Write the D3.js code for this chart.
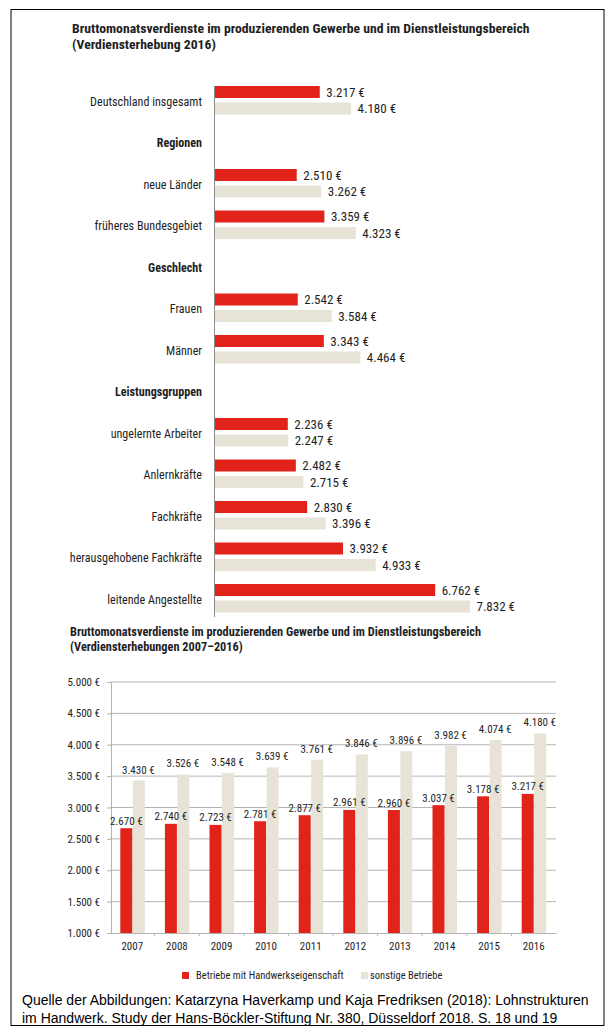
<!DOCTYPE html>
<html>
<head>
<meta charset="utf-8">
<script src="https://cdn.jsdelivr.net/npm/d3@7"></script>
<style>
  html, body { margin: 0; padding: 0; background: #fff; }
  svg { display: block; }
  .cond { font-family: "Liberation Sans Narrow", "Arial Narrow", "Roboto Condensed", sans-serif; }
  .foot { font-family: "Liberation Sans", Arial, sans-serif; }
</style>
</head>
<body>
<svg id="chart" width="612" height="1033"></svg>
<script>
// ---------- Data: Chart 1 (Verdiensterhebung 2016) ----------
const title1 = ["Bruttomonatsverdienste im produzierenden Gewerbe und im Dienstleistungsbereich",
                "(Verdiensterhebung 2016)"];
const rowLabels = ["Deutschland insgesamt", "Regionen", "neue Länder", "früheres Bundesgebiet",
                   "Geschlecht", "Frauen", "Männer", "Leistungsgruppen", "ungelernte Arbeiter",
                   "Anlernkräfte", "Fachkräfte", "herausgehobene Fachkräfte", "leitende Angestellte"];
const rowIsHeader = [false, true, false, false, true, false, false, true, false, false, false, false, false];
const handwerk2016 = [3217, null, 2510, 3359, null, 2542, 3343, null, 2236, 2482, 2830, 3932, 6762];
const sonstige2016 = [4180, null, 3262, 4323, null, 3584, 4464, null, 2247, 2715, 3396, 4933, 7832];

// ---------- Data: Chart 2 (2007–2016) ----------
const title2 = ["Bruttomonatsverdienste im produzierenden Gewerbe und im Dienstleistungsbereich",
                "(Verdiensterhebungen 2007–2016)"];
const years = ["2007", "2008", "2009", "2010", "2011", "2012", "2013", "2014", "2015", "2016"];
const handwerkYears = [2670, 2740, 2723, 2781, 2877, 2961, 2960, 3037, 3178, 3217];
const sonstigeYears = [3430, 3526, 3548, 3639, 3761, 3846, 3896, 3982, 4074, 4180];
const yTicks = [1000, 1500, 2000, 2500, 3000, 3500, 4000, 4500, 5000];
const seriesNames = ["Betriebe mit Handwerkseigenschaft", "sonstige Betriebe"];

const footer = ["Quelle der Abbildungen: Katarzyna Haverkamp und Kaja Fredriksen (2018): Lohnstrukturen",
                "im Handwerk. Study der Hans-Böckler-Stiftung Nr. 380, Düsseldorf 2018. S. 18 und 19"];

// ---------- Styling ----------
const RED = "#e2231a", BEIGE = "#e7e3d7", TXT = "#1e1e1e";
const de = d3.formatLocale({decimal: ",", thousands: ".", grouping: [3], currency: ["", " €"]});
const fmt = v => de.format(",.0f")(v) + " €";

const svg = d3.select("#chart");

// Frame
svg.append("rect").attr("x", 11).attr("y", 9.5).attr("width", 593).attr("height", 1016)
   .attr("fill", "none").attr("stroke", "#000").attr("stroke-width", 1);

// ---------- Chart 1 ----------
const g1 = svg.append("g").attr("class", "cond");
g1.selectAll("text.t1").data(title1).join("text").attr("class", "t1")
  .attr("x", 72).attr("y", (d, i) => 33 + i * 16)
  .attr("font-size", 13.7).attr("font-weight", "bold").attr("fill", TXT).text(d => d);

const yRow = d3.scalePoint().domain(d3.range(rowLabels.length)).range([101, 599]);
const x1 = d3.scaleLinear().domain([0, 8000]).range([214.5, 475]);

g1.append("line").attr("x1", x1(0)).attr("x2", x1(0)).attr("y1", 86).attr("y2", 617)
  .attr("stroke", "#8c8c8c").attr("stroke-width", 1);

const rows = d3.range(rowLabels.length).map(i => ({
  i, label: rowLabels[i], header: rowIsHeader[i], a: handwerk2016[i], b: sonstige2016[i]
}));

g1.selectAll("text.cat").data(rows).join("text").attr("class", "cat")
  .attr("x", 202).attr("y", d => yRow(d.i)).attr("dy", "0.35em")
  .attr("text-anchor", "end").attr("font-size", 13)
  .attr("font-weight", d => d.header ? "bold" : "normal")
  .attr("fill", TXT).text(d => d.label)
  .each(function() {
    const w = this.getComputedTextLength();
    d3.select(this).attr("textLength", w * 0.93).attr("lengthAdjust", "spacingAndGlyphs");
  });

const dataRows = rows.filter(d => !d.header);
g1.selectAll("rect.ra").data(dataRows).join("rect").attr("class", "ra")
  .attr("x", x1(0) + 0.5).attr("y", d => yRow(d.i) - 15)
  .attr("width", d => x1(d.a) - x1(0)).attr("height", 12).attr("fill", RED);
g1.selectAll("rect.rb").data(dataRows).join("rect").attr("class", "rb")
  .attr("x", x1(0) + 0.5).attr("y", d => yRow(d.i) + 1.5)
  .attr("width", d => x1(d.b) - x1(0)).attr("height", 12).attr("fill", BEIGE);
g1.selectAll("text.va").data(dataRows).join("text").attr("class", "va")
  .attr("x", d => x1(d.a) + 7).attr("y", d => yRow(d.i) - 9).attr("dy", "0.35em")
  .attr("font-size", 13).attr("fill", TXT).text(d => fmt(d.a));
g1.selectAll("text.vb").data(dataRows).join("text").attr("class", "vb")
  .attr("x", d => x1(d.b) + 7).attr("y", d => yRow(d.i) + 7.5).attr("dy", "0.35em")
  .attr("font-size", 13).attr("fill", TXT).text(d => fmt(d.b));

// ---------- Chart 2 ----------
const g2 = svg.append("g").attr("class", "cond");
g2.selectAll("text.t2").data(title2).join("text").attr("class", "t2")
  .attr("x", 70).attr("y", (d, i) => 636 + i * 14.5)
  .attr("font-size", 12.3).attr("font-weight", "bold").attr("fill", TXT).text(d => d);

const x2 = d3.scaleBand().domain(years).range([110, 556]);
const y2 = d3.scaleLinear().domain([1000, 5000]).range([933, 682]);

// gridlines
g2.selectAll("line.grid").data(yTicks.slice(1)).join("line").attr("class", "grid")
  .attr("x1", 110).attr("x2", 556).attr("y1", d => y2(d)).attr("y2", d => y2(d))
  .attr("stroke", "#b4b4b4").attr("stroke-width", 1);

// y axis
const yAxis = d3.axisLeft(y2).tickValues(yTicks).tickFormat(fmt).tickSize(4).tickPadding(7);
const gy = g2.append("g").attr("transform", "translate(111,0)").call(yAxis);
gy.attr("font-family", null);
gy.select(".domain").attr("stroke", "#b4b4b4");
gy.selectAll(".tick line").attr("stroke", "#b4b4b4");
gy.selectAll(".tick text").attr("font-size", 11).attr("fill", TXT);

// bars
const pts = years.map((y, i) => ({y, a: handwerkYears[i], b: sonstigeYears[i]}));
const bw = 12;
g2.selectAll("rect.ya").data(pts).join("rect").attr("class", "ya")
  .attr("x", d => x2(d.y) + x2.bandwidth() / 2 - bw).attr("y", d => y2(d.a))
  .attr("width", bw).attr("height", d => y2(1000) - y2(d.a)).attr("fill", RED);
g2.selectAll("rect.yb").data(pts).join("rect").attr("class", "yb")
  .attr("x", d => x2(d.y) + x2.bandwidth() / 2 + 0.5).attr("y", d => y2(d.b))
  .attr("width", bw).attr("height", d => y2(1000) - y2(d.b)).attr("fill", BEIGE);

// x axis
const xAxis = d3.axisBottom(x2).tickSize(0).tickPadding(9);
const gx = g2.append("g").attr("transform", "translate(0,933)").call(xAxis);
gx.attr("font-family", null);
gx.select(".domain").attr("stroke", "#b4b4b4");
gx.selectAll(".tick text").attr("font-size", 11).attr("fill", TXT);
gx.selectAll("line.sep").data(years.slice(1)).join("line").attr("class", "sep")
  .attr("x1", d => x2(d)).attr("x2", d => x2(d)).attr("y1", 0).attr("y2", 3)
  .attr("stroke", "#b4b4b4");

// value labels
g2.selectAll("text.la").data(pts).join("text").attr("class", "la")
  .attr("x", d => x2(d.y) + x2.bandwidth() / 2 - bw / 2).attr("y", d => y2(d.a) - 3.5)
  .attr("text-anchor", "middle").attr("font-size", 11).attr("fill", TXT).text(d => fmt(d.a));
g2.selectAll("text.lb").data(pts).join("text").attr("class", "lb")
  .attr("x", d => x2(d.y) + x2.bandwidth() / 2 + bw / 2).attr("y", d => y2(d.b) - 7)
  .attr("text-anchor", "middle").attr("font-size", 11).attr("fill", TXT).text(d => fmt(d.b));

// legend
const legX = [182, 361];
const leg = g2.selectAll("g.leg").data(seriesNames).join("g").attr("class", "leg")
  .attr("transform", (d, i) => `translate(${legX[i]},972)`);
leg.append("rect").attr("width", 7).attr("height", 7).attr("fill", (d, i) => i === 0 ? RED : BEIGE);
leg.append("text").attr("x", (d, i) => i === 0 ? 14 : 9).attr("y", 3.5).attr("dy", "0.35em")
  .attr("font-size", 10.5).attr("fill", TXT).text(d => d);

// ---------- Footer ----------
svg.append("g").attr("class", "foot").selectAll("text").data(footer).join("text")
  .attr("x", 22).attr("y", (d, i) => 1005 + i * 17.5)
  .attr("font-size", 14).attr("fill", "#000").text(d => d);
</script>
</body>
</html>
